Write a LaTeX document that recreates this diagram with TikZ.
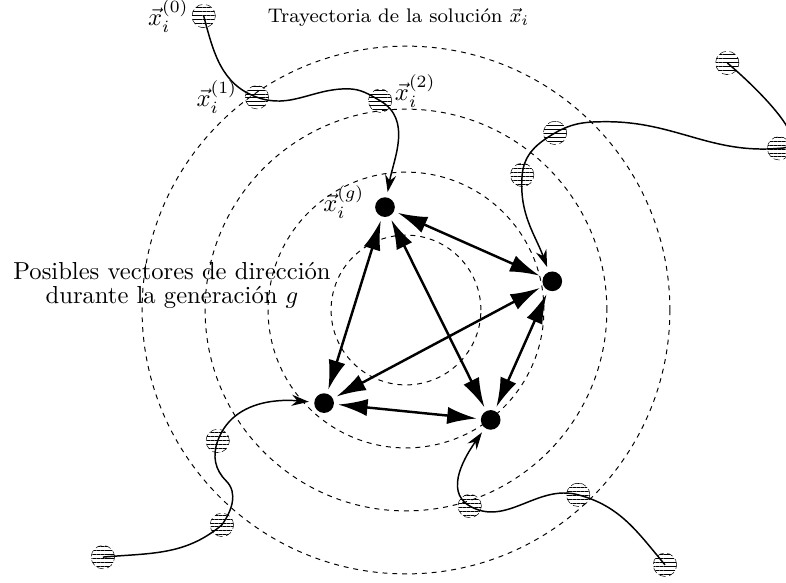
\documentclass[tikz,border=0pt]{standalone}
\usepackage{amsmath}
\usepackage{tikz}
\usetikzlibrary{
  arrows.meta,
  positioning,
  patterns.meta
}
\tikzset{
  % Circunferencias concentricas
  ring/.style     = {thin, draw=black, dash pattern=on 2pt off 2pt},
  % Soluciones de la generacion g
  soldot/.style   = {circle, fill=black, inner sep=0pt, minimum size=8pt},
  % Puntos de la trayectoria
  trajpt/.style   = {circle, inner sep=0pt, minimum size=9.5pt, draw=black, very thin,
                     dash pattern=on 2.5pt off 1.5pt,
                     pattern={Lines[angle=0, distance=1.6pt, line width=0.35pt]}},
  % Trayectorias
  trajline/.style = {semithick, -{Stealth[length=7pt, width=4.5pt]}, shorten >=2pt},
  % Vectores de direccion
  dirarrow/.style = {line width=1pt,
                     {Latex[length=12pt, width=7pt]}-{Latex[length=12pt, width=7pt]},
                     shorten <=1.5pt, shorten >=1.5pt},
  % Etiquetas
  lab/.style      = {inner sep=1pt},
}
\begin{document}
\begin{tikzpicture}
  \useasboundingbox (-5.80,-3.886) rectangle (5.429,4.429);
  % Circunferencias
  \foreach \r in {1.07,1.97,2.87,3.77}
    \draw[ring] (0,0) circle (\r);
  % Soluciones
  \node[soldot] (A) at (-0.30, 1.47) {};
  \node[soldot] (B) at ( 2.09, 0.41) {};
  \node[soldot] (C) at (-1.17,-1.33) {};
  \node[soldot] (D) at ( 1.21,-1.57) {};
  % Puntos de las trayectorias
  \node[trajpt] (t1a) at (-2.89, 4.20) {};
  \node[trajpt] (t1b) at (-2.13, 3.04) {};
  \node[trajpt] (t1c) at (-0.37, 2.99) {};
  \coordinate (b1) at (-0.84, 3.16);
  \node[trajpt] (t2a) at ( 4.59, 3.53) {};
  \node[trajpt] (t2b) at ( 5.33, 2.31) {};
  \coordinate (b2) at ( 2.87, 2.69);
  \node[trajpt] (t2c) at ( 2.13, 2.53) {};
  \node[trajpt] (t2d) at ( 1.66, 1.93) {};
  \node[trajpt] (t3a) at (-4.33,-3.53) {};
  \node[trajpt] (t3b) at (-2.63,-3.07) {};
  \coordinate (b3) at (-2.57,-2.44);
  \node[trajpt] (t3c) at (-2.69,-1.87) {};
  \node[trajpt] (t4a) at ( 3.70,-3.64) {};
  \node[trajpt] (t4b) at ( 2.46,-2.64) {};
  \node[trajpt] (t4c) at ( 0.91,-2.80) {};
  % Trayectorias
  \draw[trajline] (t1a.center) to[out=-75,in=160] (t1b.center)
    to[out=-20,in=180] (b1) to[out=0,in=150] (t1c.center) to[out=-30,in=80] (A);
  \draw[trajline] (t2a.center) to[out=-40,in=0] (t2b.center)
    to[out=185,in=0] (b2) to[out=180,in=30] (t2c.center)
    to[out=210,in=85] (t2d.center) to[out=-95,in=110] (B);
  \draw[trajline] (t3a.center) to[out=5,in=220] (t3b.center)
    to[out=55,in=-45] (b3) to[out=135,in=-110] (t3c.center) to[out=70,in=175] (C);
  \draw[trajline] (t4a.center) to[out=130,in=-15] (t4b.center)
    to[out=165,in=-30] (t4c.center) to[out=150,in=235] (D);
  % Vectores de direccion
  \foreach \p/\q in {A/B,A/C,A/D,B/C,B/D,C/D}
    \draw[dirarrow] (\p) -- (\q);
  % Etiquetas
  \node[lab, left=0pt of t1a] (l0) {$\vec{x}_i^{(0)}$};
  \node[lab, left=2pt of t1b] (l1) {$\vec{x}_i^{(1)}$};
  \node[lab, right=0pt of t1c, yshift=4pt] (l2) {$\vec{x}_i^{(2)}$};
  \node[lab, left=3pt of A, yshift=2pt] (lg) {$\vec{x}_i^{(g)}$};
  \node[font=\footnotesize] (tray) at (-0.107, 4.186)
    {Trayectoria de la solución $\vec{x}_i$};
  \node[align=center] (posib) at (-3.343, 0.35)
    {Posibles vectores de dirección\\[-2pt]durante la generación $g$};
\end{tikzpicture}
\end{document}
